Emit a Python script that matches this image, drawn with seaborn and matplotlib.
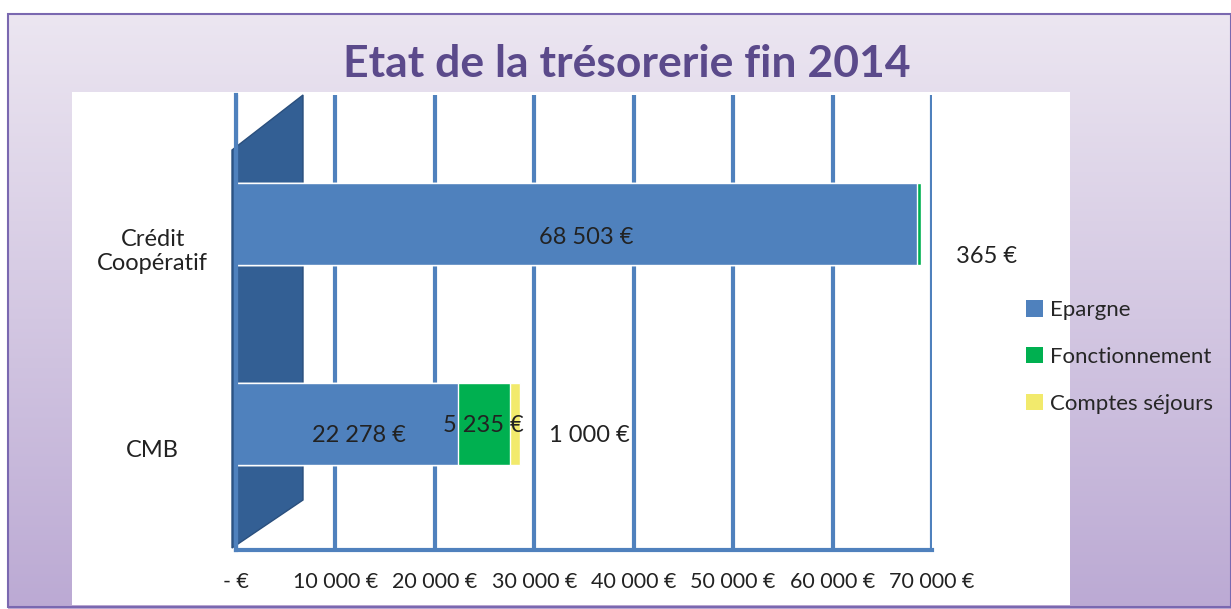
import numpy as np
import pandas as pd
import matplotlib.pyplot as plt
import seaborn as sns
from matplotlib.patches import Rectangle, Polygon, Patch
from matplotlib.transforms import ScaledTranslation

# Données
banques = ['Crédit\nCoopératif', 'CMB']
epargne = [68503, 22278]
fonctionnement = [365, 5235]
comptes_sejours = [0, 1000]
series = ['Epargne', 'Fonctionnement', 'Comptes séjours']
couleurs = ['#4f81bd', '#00b050', '#f2ea6c']
ticks = [0, 10000, 20000, 30000, 40000, 50000, 60000, 70000]
tick_labels = ['- €', '10 000 €', '20 000 €', '30 000 €', '40 000 €',
               '50 000 €', '60 000 €', '70 000 €']

df = pd.DataFrame({'Banque': banques, 'Epargne': epargne,
                   'Fonctionnement': fonctionnement,
                   'Comptes séjours': comptes_sejours})
df['cum1'] = df['Epargne']
df['cum2'] = df['cum1'] + df['Fonctionnement']
df['cum3'] = df['cum2'] + df['Comptes séjours']

sns.set_style('white')
plt.rcParams['font.family'] = ['Lato', 'DejaVu Sans']

W, H = 1231, 609
fig = plt.figure(figsize=(W / 100, H / 100), dpi=100)

# Fond dégradé + cadre
bg = fig.add_axes([8 / W, 0, 1 - 8 / W, (H - 14) / H], zorder=-3)
grad = np.linspace(0, 1, 256).reshape(-1, 1)
c_top = np.array([0.925, 0.902, 0.945])
c_bot = np.array([0.735, 0.665, 0.830])
img = c_top[None, None, :] * (1 - grad[:, :, None]) + c_bot[None, None, :] * grad[:, :, None]
bg.imshow(img, aspect='auto', extent=[0, 1, 0, 1])
bg.set_axis_off()
fig.patches.append(Rectangle((8 / W, 2 / H), 1 - 8 / W, (H - 16) / H, transform=fig.transFigure,
                             facecolor='none', edgecolor='#7a68b0', lw=1.5, zorder=-1.5))
# Zone blanche du graphique
fig.patches.append(Rectangle((72 / W, 4 / H), (1070 - 72) / W, (605 - 92) / H,
                             transform=fig.transFigure, facecolor='white',
                             edgecolor='none', zorder=-1))
# Paroi latérale (effet 3D)
fig.patches.append(Polygon([(232 / W, 1 - 548 / H), (232 / W, 1 - 150 / H),
                            (303 / W, 1 - 95 / H), (303 / W, 1 - 500 / H)],
                           closed=True, transform=fig.transFigure,
                           facecolor='#335f94', edgecolor='#2a4f7d', zorder=-0.5))

x0, x1 = 236, 932
ax = fig.add_axes([x0 / W, 1 - 550 / H, (x1 - x0) / W, (550 - 95) / H], zorder=0)
ax.patch.set_alpha(0)

sns.barplot(data=df, y='Banque', x='cum3', color=couleurs[2], orient='h',
            width=0.41, ax=ax, saturation=1)
sns.barplot(data=df, y='Banque', x='cum2', color=couleurs[1], orient='h',
            width=0.41, ax=ax, saturation=1)
sns.barplot(data=df, y='Banque', x='cum1', color=couleurs[0], orient='h',
            width=0.41, ax=ax, saturation=1)

ax.set_xlim(0, 70000)
ax.set_ylim(1.63, -0.645)
ax.set_xticks(ticks)
ax.set_xticklabels(tick_labels, fontsize=15.5, color='#222222')
ax.set_xlabel('')
ax.set_ylabel('')
ax.tick_params(axis='y', length=0, pad=60, labelsize=17, labelcolor='#222222')
ax.tick_params(axis='x', length=6, width=3, color='#4f81bd', pad=10, direction='out')
shift = ScaledTranslation(0, -24 / 100, fig.dpi_scale_trans)
for lbl in ax.get_yticklabels():
    lbl.set_multialignment('center')
    lbl.set_horizontalalignment('center')
    lbl.set_transform(lbl.get_transform() + shift)
ax.xaxis.grid(True, color='#4f81bd', lw=3)
ax.set_axisbelow(True)
for s in ['top', 'right']:
    ax.spines[s].set_visible(False)
for s in ['bottom', 'left']:
    ax.spines[s].set_color('#4f81bd')
    ax.spines[s].set_linewidth(3)


def fmt(v):
    return f'{v:,}'.replace(',', ' ') + ' €'


# Étiquettes de valeurs
kw = dict(va='center', fontsize=17, color='#222222')
ax.text(df['Epargne'][0] / 2 + 1000, 0.065, fmt(epargne[0]), ha='center', **kw)
ax.text(df['cum2'][0] + 3500, 0.16, fmt(fonctionnement[0]), ha='left', **kw)
ax.text(df['Epargne'][1] / 2 + 1200, 1.055, fmt(epargne[1]), ha='center', **kw)
ax.text(df['cum1'][1] + fonctionnement[1] / 2, 1.005, fmt(fonctionnement[1]), ha='center', **kw)
ax.text(df['cum3'][1] + 3000, 1.055, fmt(comptes_sejours[1]), ha='left', **kw)

handles = [Patch(facecolor=c, edgecolor='none') for c in couleurs]
fig.legend(handles, series, loc='center left', bbox_to_anchor=(1006 / W, 1 - 357 / H),
           frameon=False, fontsize=16, handlelength=0.75, handleheight=0.75,
           handletextpad=0.35, labelspacing=1.2)

fig.text(627 / W, 1 - 64 / H, 'Etat de la trésorerie fin 2014', ha='center', va='center',
         fontsize=32, fontweight='bold', color='#5b4a8b')

fig.savefig('out.png', dpi=100)
